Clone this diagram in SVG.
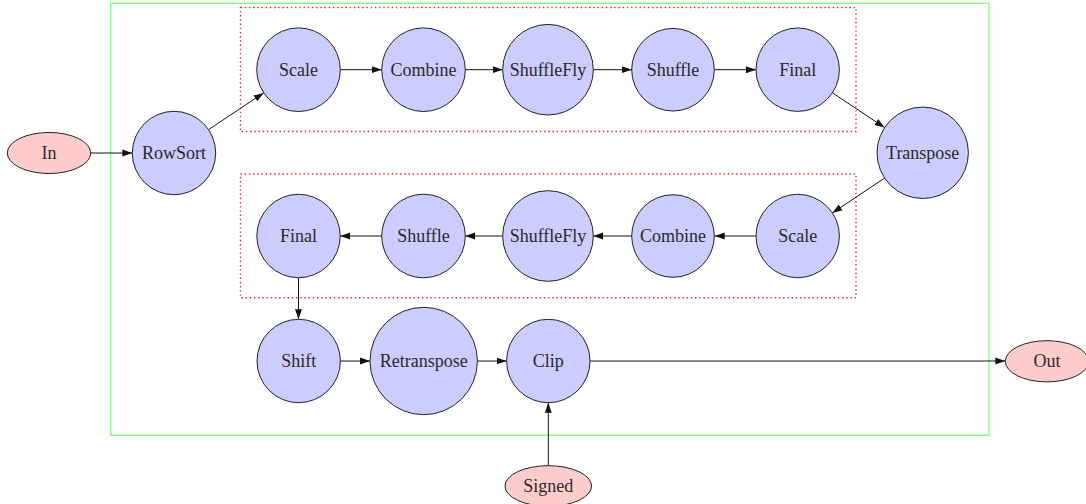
<svg xmlns="http://www.w3.org/2000/svg" width="1086" height="504" viewBox="0 0 1086 504">
<style>
.proc{fill:#ccccff;stroke:#222;stroke-width:1}
.io{fill:#ffcccc;stroke:#222;stroke-width:1}
.lbl{font-family:'Liberation Serif',serif;font-size:18px;fill:#2a2a2a;text-anchor:middle;dominant-baseline:central}
.edge{stroke:#111;stroke-width:1;fill:none;marker-end:url(#ah)}
.grp{fill:none;stroke:#ff2020;stroke-width:1.4;stroke-dasharray:1.4 2.8}
</style>
<defs>
<marker id="ah" markerUnits="userSpaceOnUse" markerWidth="11" markerHeight="9" refX="10" refY="4" orient="auto">
<path d="M0,0.5 L10,4 L0,7.5 z" fill="#111"/>
</marker>
</defs>
<rect id="outer" x="110.7" y="3.3" width="878.3" height="432" fill="none" stroke="#80ff80" stroke-width="1.4"/>
<rect id="group1" class="grp" x="240.5" y="7.5" width="615.5" height="124"/>
<rect id="group2" class="grp" x="240.5" y="174" width="615.5" height="123.7"/>
<g id="connectors">
<line class="edge" x1="90.7" y1="153" x2="132.3" y2="153"/>
<line class="edge" x1="208.7" y1="129.5" x2="263.7" y2="92.9"/>
<line class="edge" x1="340.3" y1="69.7" x2="381.7" y2="69.7"/>
<line class="edge" x1="465.3" y1="69.7" x2="502.7" y2="69.7"/>
<line class="edge" x1="593.3" y1="69.7" x2="631.7" y2="69.7"/>
<line class="edge" x1="714.2" y1="69.7" x2="756" y2="69.7"/>
<line class="edge" x1="832.4" y1="92.8" x2="884.6" y2="127.5"/>
<line class="edge" x1="884.6" y1="178.1" x2="832.4" y2="212.9"/>
<line class="edge" x1="756" y1="236" x2="714.7" y2="236"/>
<line class="edge" x1="631.7" y1="236" x2="593.3" y2="236"/>
<line class="edge" x1="502.7" y1="236" x2="465.3" y2="236"/>
<line class="edge" x1="381.7" y1="236" x2="340.3" y2="236"/>
<line class="edge" x1="298.5" y1="277.7" x2="298.5" y2="319.3"/>
<line class="edge" x1="340.4" y1="361" x2="370" y2="361"/>
<line class="edge" x1="477.4" y1="361" x2="506.6" y2="361"/>
<line class="edge" x1="590" y1="361" x2="1005.3" y2="361"/>
<line class="edge" x1="548.3" y1="465.7" x2="548.3" y2="402.7"/>
</g>
<g id="In"><ellipse class="io" cx="49" cy="153" rx="41.7" ry="20.5"/><text class="lbl" x="49" y="153">In</text></g>
<g id="RowSort"><circle class="proc" cx="174" cy="153" r="41.7"/><text class="lbl" x="174" y="153">RowSort</text></g>
<g id="Scale1"><circle class="proc" cx="298.5" cy="69.7" r="41.8"/><text class="lbl" x="298.5" y="69.7">Scale</text></g>
<g id="Combine1"><circle class="proc" cx="423.5" cy="69.7" r="41.8"/><text class="lbl" x="423.5" y="69.7">Combine</text></g>
<g id="ShuffleFly1"><circle class="proc" cx="548" cy="69.7" r="45.3"/><text class="lbl" x="548" y="69.7">ShuffleFly</text></g>
<g id="Shuffle1"><circle class="proc" cx="673" cy="69.7" r="41.3"/><text class="lbl" x="673" y="69.7">Shuffle</text></g>
<g id="Final1"><circle class="proc" cx="797.7" cy="69.7" r="41.7"/><text class="lbl" x="797.7" y="69.7">Final</text></g>
<g id="Transpose"><circle class="proc" cx="922.7" cy="152.8" r="45.7"/><text class="lbl" x="922.7" y="152.8">Transpose</text></g>
<g id="Scale2"><circle class="proc" cx="797.7" cy="236" r="41.7"/><text class="lbl" x="797.7" y="236">Scale</text></g>
<g id="Combine2"><circle class="proc" cx="673" cy="236" r="41.3"/><text class="lbl" x="673" y="236">Combine</text></g>
<g id="ShuffleFly2"><circle class="proc" cx="548" cy="236" r="45.3"/><text class="lbl" x="548" y="236">ShuffleFly</text></g>
<g id="Shuffle2"><circle class="proc" cx="423.5" cy="236" r="41.8"/><text class="lbl" x="423.5" y="236">Shuffle</text></g>
<g id="Final2"><circle class="proc" cx="298.5" cy="236" r="41.7"/><text class="lbl" x="298.5" y="236">Final</text></g>
<g id="Shift"><circle class="proc" cx="298.7" cy="361" r="41.7"/><text class="lbl" x="298.7" y="361">Shift</text></g>
<g id="Retranspose"><circle class="proc" cx="423.7" cy="361" r="53.7"/><text class="lbl" x="423.7" y="361">Retranspose</text></g>
<g id="Clip"><circle class="proc" cx="548.3" cy="361" r="41.7"/><text class="lbl" x="548.3" y="361">Clip</text></g>
<g id="Out"><ellipse class="io" cx="1047" cy="361.3" rx="41.7" ry="20.6"/><text class="lbl" x="1047" y="361.3">Out</text></g>
<g id="Signed"><ellipse class="io" cx="548.3" cy="486" rx="43.3" ry="20.3"/><text class="lbl" x="548.3" y="486">Signed</text></g>
</svg>
